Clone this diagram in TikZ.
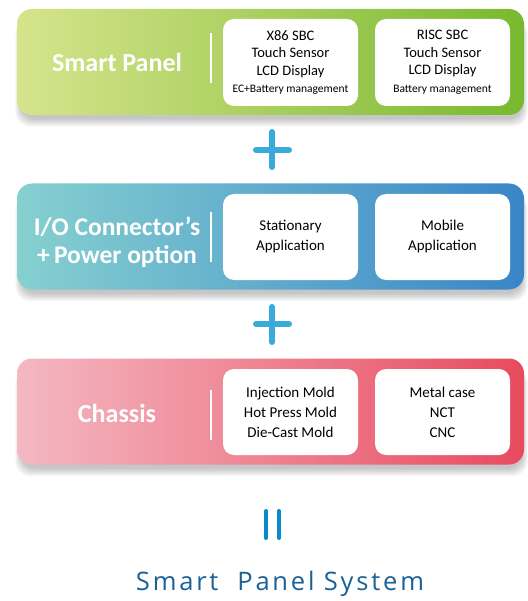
\documentclass[tikz,border=0pt]{standalone}
\usepackage{fontspec}
\setmainfont{Carlito}
\newfontfamily\titlefont[LetterSpace=11]{Open Sans}
\usetikzlibrary{shadings}
\definecolor{plusblue}{HTML}{3AA9DC}
\definecolor{eqblue}{HTML}{0A8ACB}
\definecolor{sysblue}{HTML}{1B6196}
\definecolor{gA}{HTML}{D6E48C}
\definecolor{gB}{HTML}{78B92E}
\definecolor{bA}{HTML}{86D0D0}
\definecolor{bB}{HTML}{3985C8}
\definecolor{rA}{HTML}{F4B8C2}
\definecolor{rB}{HTML}{E84A5E}
\tikzset{
  band/.style={rectangle, rounded corners=15pt, minimum width=507pt, minimum height=106pt, inner sep=0pt, draw=none},
  wbox/.style={rectangle, rounded corners=11pt, fill=white, minimum width=135pt, minimum height=87pt, inner sep=0pt, align=center, font=\fontsize{14.5}{17.5}\selectfont, text=black},
  ttl/.style={text=white, font=\bfseries\fontsize{26}{29}\selectfont, align=center},
  sep/.style={white, line width=1.2pt},
  pl/.style={plusblue, line width=6pt, line cap=round},
  eq/.style={eqblue, line width=4pt, line cap=round}
}
\begin{document}
\begin{tikzpicture}[x=1pt,y=-1pt]
\useasboundingbox (0,0) rectangle (527,601);
% shadows
\foreach \cy in {62,236.5,411.5}{
  \foreach \k in {0,...,7}{
    \fill[black, opacity=0.03, rounded corners=15pt]
      (17-\k*0.8+4,\cy-53+10) rectangle (524+\k*0.8-2,\cy+53+4+\k*1.1);
  }
}
% bands
\node[band, left color=gA, right color=gB] (b1) at (270.5,62) {};
\node[band, left color=bA, right color=bB] (b2) at (270.5,236.5) {};
\node[band, left color=rA, right color=rB] (b3) at (270.5,411.5) {};
% titles
\node[ttl] (t1) at (117,62) {Smart Panel};
\node[ttl, font=\bfseries\fontsize{25.5}{27.5}\selectfont] (t2) at (117,242) {I/O Connector’s\\+\,Power option};
\node[ttl] (t3) at (117,413) {Chassis};
% separators
\coordinate (s1a) at (211,33); \coordinate (s1b) at (211,83);
\coordinate (s2a) at (211,212); \coordinate (s2b) at (211,262);
\coordinate (s3a) at (211,390); \coordinate (s3b) at (211,440);
\draw[sep] (s1a) -- (s1b);
\draw[sep] (s2a) -- (s2b);
\draw[sep] (s3a) -- (s3b);
% white boxes
\node[wbox] (x1) at (290.5,62.5) {X86 SBC\\Touch Sensor\\LCD Display\\{\fontsize{11.5}{14}\selectfont EC+Battery management}};
\node[wbox] (x2) at (442.5,62.5) {RISC SBC\\Touch Sensor\\LCD Display\\{\fontsize{11.5}{14}\selectfont Battery management}};
\node[wbox, minimum height=86pt, font=\fontsize{15}{18}\selectfont] (y1) at (290.5,237) {Stationary\\[2pt]Application};
\node[wbox, minimum height=86pt, font=\fontsize{15}{18}\selectfont] (y2) at (442.5,237) {Mobile\\[2pt]Application};
\node[wbox, minimum height=86pt, font=\fontsize{15}{20}\selectfont] (z1) at (290.5,412) {Injection Mold\\Hot Press Mold\\Die-Cast Mold};
\node[wbox, minimum height=86pt, font=\fontsize{15}{20}\selectfont] (z2) at (442.5,412) {Metal case\\NCT\\CNC};
% plus signs
\coordinate (p1l) at (256,150); \coordinate (p1r) at (289,150);
\coordinate (p1t) at (272,132); \coordinate (p1b) at (272,167);
\draw[pl] (p1l) -- (p1r); \draw[pl] (p1t) -- (p1b);
\coordinate (p2l) at (256,324); \coordinate (p2r) at (289,324);
\coordinate (p2t) at (272,307); \coordinate (p2b) at (272,342);
\draw[pl] (p2l) -- (p2r); \draw[pl] (p2t) -- (p2b);
% equals
\coordinate (e1a) at (266,511); \coordinate (e1b) at (266,538);
\coordinate (e2a) at (279,511); \coordinate (e2b) at (279,538);
\draw[eq] (e1a) -- (e1b); \draw[eq] (e2a) -- (e2b);
% final label
\node[text=sysblue, font=\titlefont\fontsize{25.5}{28}\selectfont, anchor=base] (sys) at (280,590) {Smart\ \ Panel System};
\end{tikzpicture}
\end{document}
